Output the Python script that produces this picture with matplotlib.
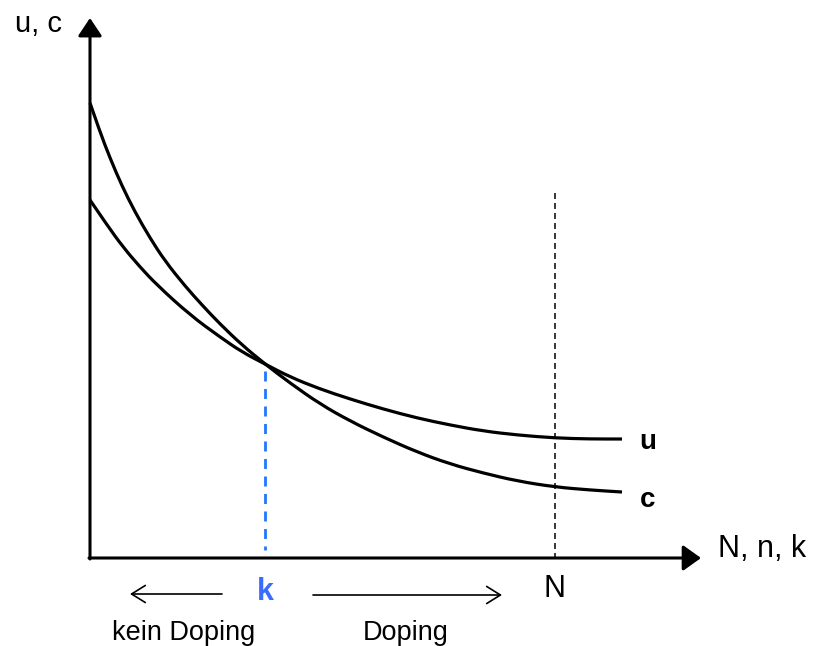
import matplotlib
matplotlib.use("Agg")
import matplotlib.pyplot as plt
from matplotlib.path import Path
from matplotlib.patches import PathPatch

plt.rcParams['font.family'] = ['Liberation Sans', 'DejaVu Sans']
plt.rcParams['lines.scale_dashes'] = False

# Curve samples (x along the N axis, y up from the x axis)
c_x = [0, 10, 20, 32, 45, 60, 75, 95, 112, 130, 152, 175, 200, 230, 260, 293, 327, 360, 393, 427, 465, 500, 532]
c_y = [455, 426, 400, 372, 346, 320, 297, 272, 253, 234, 213, 194, 175, 154, 137, 121, 106, 94, 85, 77, 71, 68, 66]
u_x = [0, 17, 33, 50, 67, 100, 130, 152, 175, 200, 230, 260, 293, 327, 360, 393, 427, 465, 500, 532]
u_y = [358, 333, 311, 291, 273, 243, 221, 206, 194, 181, 169, 159, 149, 140, 133, 127, 123, 120, 119, 119]

k_x = 175      # crossing point
k_y = 194
N_x = 465      # upper bound N
N_top = 365
x_end = 611
y_end = 540


def smooth_path(xs, ys):
    """Quadratic-Bezier path through the read points (drawn by matplotlib)."""
    verts = [(xs[0], ys[0])]
    codes = [Path.MOVETO]
    for i in range(1, len(xs) - 1):
        verts.append((xs[i], ys[i]))
        verts.append(((xs[i] + xs[i + 1]) / 2, (ys[i] + ys[i + 1]) / 2))
        codes += [Path.CURVE3, Path.CURVE3]
    verts.append((xs[-1], ys[-1]))
    codes.append(Path.LINETO)
    return Path(verts, codes)


fig = plt.figure(figsize=(8.15, 6.46), dpi=100)
ax = fig.add_axes([0, 0, 1, 1])
ax.set_xlim(-90, 725)
ax.set_ylim(-88, 558)
ax.axis('off')

# axes with arrows
ax.annotate('', xy=(x_end, 0), xytext=(-1, 0),
            arrowprops=dict(arrowstyle='-|>,head_length=0.42,head_width=0.3', lw=2.2,
                            color='black', mutation_scale=26, shrinkA=0, shrinkB=0))
ax.annotate('', xy=(0, y_end), xytext=(0, -1),
            arrowprops=dict(arrowstyle='-|>,head_length=0.42,head_width=0.28', lw=2.2,
                            color='black', mutation_scale=26, shrinkA=0, shrinkB=0))

# curves
for xs, ys in ((c_x, c_y), (u_x, u_y)):
    ax.add_patch(PathPatch(smooth_path(xs, ys), fill=False, edgecolor='black',
                           lw=2.3, capstyle='butt', joinstyle='round'))

# dashed guide lines
ax.plot([k_x, k_x], [k_y - 7, 8], color='#1f78ff', lw=2.0, dashes=(7.2, 5.4))
ax.plot([N_x, N_x], [N_top, 0], color='black', lw=1.1, dashes=(4.3, 2.9))

# labels
ax.text(-75, 526, 'u, c', fontsize=21, ha='left', va='baseline')
ax.text(628, 1, 'N, n, k', fontsize=22, ha='left', va='baseline')
ax.text(549, 109, 'u', fontsize=20, fontweight='bold', ha='left', va='baseline')
ax.text(550, 51, 'c', fontsize=20, fontweight='bold', ha='left', va='baseline')
ax.text(N_x, -39, 'N', fontsize=22, ha='center', va='baseline')
ax.text(k_x, -42, 'k', fontsize=22, fontweight='bold', color='#3a6cff', ha='center', va='baseline')
ax.text(22, -82, 'kein Doping', fontsize=19.5, ha='left', va='baseline')
ax.text(273, -82, 'Doping', fontsize=19.5, ha='left', va='baseline')

# direction arrows
ax.annotate('', xy=(40, -36), xytext=(132, -36),
            arrowprops=dict(arrowstyle='->,head_length=0.45,head_width=0.28', lw=1.2,
                            color='black', mutation_scale=22, shrinkA=0, shrinkB=0))
ax.annotate('', xy=(412, -37), xytext=(223, -37),
            arrowprops=dict(arrowstyle='->,head_length=0.45,head_width=0.28', lw=1.2,
                            color='black', mutation_scale=22, shrinkA=0, shrinkB=0))

fig.savefig('out.png', dpi=100, facecolor='white')
